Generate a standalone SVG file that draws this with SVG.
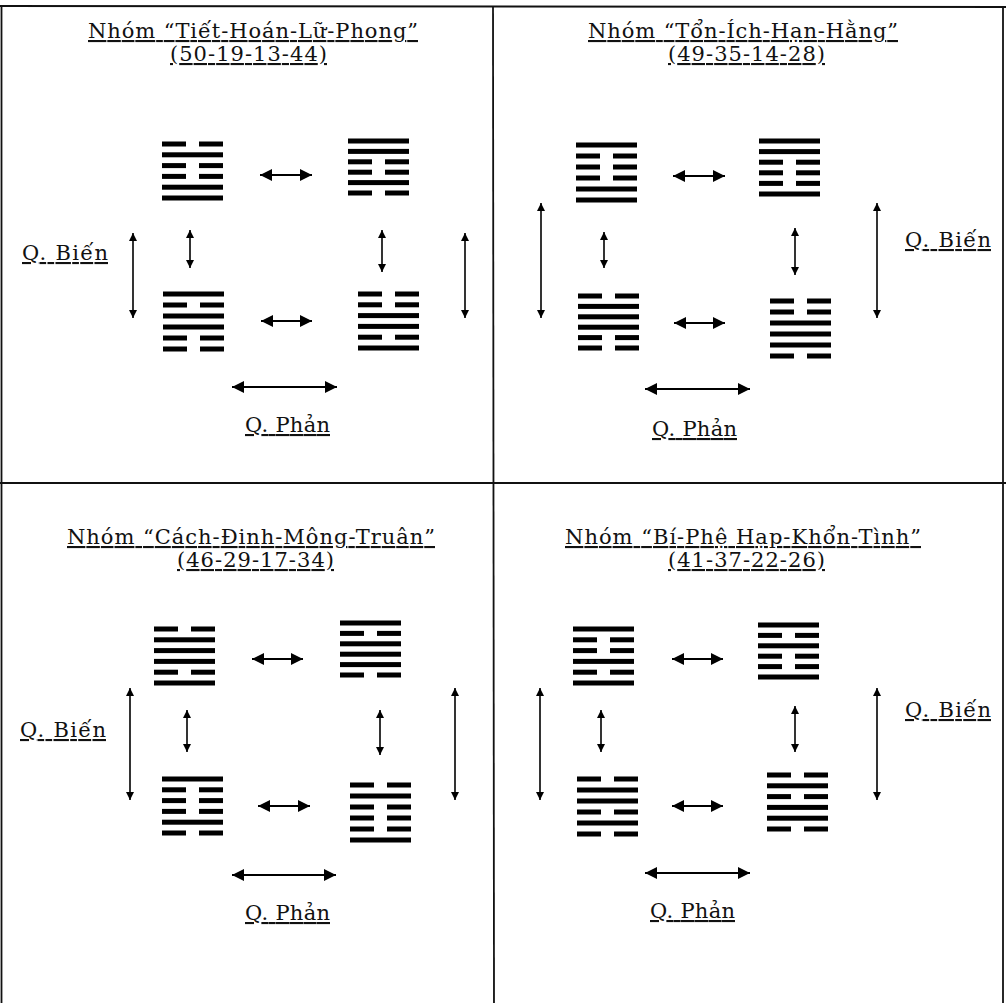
<svg xmlns="http://www.w3.org/2000/svg" xmlns:xlink="http://www.w3.org/1999/xlink" width="1006" height="1003" viewBox="0 0 1006 1003">
<style>
.t{font-family:"DejaVu Serif","Liberation Serif",serif;font-size:21px;fill:#111;text-decoration:underline;}
.b{stroke:#111;stroke-width:1.8;fill:none;}
.ah{stroke:#000;stroke-width:2.2;fill:none;marker-start:url(#mh);marker-end:url(#mh);}
.av{stroke:#000;stroke-width:1.6;fill:none;marker-start:url(#mv);marker-end:url(#mv);}
</style>
<defs>
<marker id="mh" viewBox="0 0 10 10" refX="10" refY="5" markerWidth="12" markerHeight="12" markerUnits="userSpaceOnUse" orient="auto-start-reverse"><path d="M0,0 L10,5 L0,10 z" fill="#000"/></marker>
<marker id="mv" viewBox="0 0 10 10" refX="10" refY="5" markerWidth="10" markerHeight="8" markerUnits="userSpaceOnUse" orient="auto-start-reverse"><path d="M0,0 L10,5 L0,10 z" fill="#000"/></marker>
<rect id="s" y="-0.5" width="61" height="5" fill="#000"/>
<g id="k" fill="#000"><rect y="-0.5" width="24" height="5"/><rect x="37" y="-0.5" width="24" height="5"/></g>
</defs>
<rect width="1006" height="1003" fill="#fff"/>
<g id="frame" class="b">
<line x1="0" y1="6" x2="1006" y2="7"/>
<line x1="1.5" y1="6" x2="1.5" y2="1003"/>
<line x1="1003" y1="6" x2="1003" y2="1003"/>
<line x1="493" y1="6" x2="494" y2="1003"/>
<line x1="0" y1="483" x2="1006" y2="483"/>
</g>
<g id="labels">
<text class="t" x="88" y="38" textLength="330">Nhóm “Tiết-Hoán-Lữ-Phong”</text>
<text class="t" x="170" y="61" textLength="157">(50-19-13-44)</text>
<text class="t" x="588" y="38" textLength="310">Nhóm “Tổn-Ích-Hạn-Hằng”</text>
<text class="t" x="668" y="61" textLength="157">(49-35-14-28)</text>
<text class="t" x="67" y="544" textLength="368">Nhóm “Cách-Đinh-Mông-Truân”</text>
<text class="t" x="177" y="567" textLength="157">(46-29-17-34)</text>
<text class="t" x="565" y="544" textLength="356">Nhóm “Bí-Phệ Hạp-Khổn-Tình”</text>
<text class="t" x="668" y="567" textLength="157">(41-37-22-26)</text>
<text class="t" x="22" y="260" textLength="86">Q. Biến</text>
<text class="t" x="905" y="247" textLength="86">Q. Biến</text>
<text class="t" x="20" y="737" textLength="86">Q. Biến</text>
<text class="t" x="905" y="717" textLength="86">Q. Biến</text>
<text class="t" x="245" y="432" textLength="85">Q. Phản</text>
<text class="t" x="652" y="436" textLength="85">Q. Phản</text>
<text class="t" x="245" y="920" textLength="85">Q. Phản</text>
<text class="t" x="650" y="918" textLength="85">Q. Phản</text>
</g>
<g id="tiet" transform="translate(162,144)"><use href="#k" y="-2"/><use href="#s" y="8.8"/><use href="#k" y="19.6"/><use href="#k" y="30.4"/><use href="#s" y="41.2"/><use href="#s" y="52"/></g>
<g id="hoan" transform="translate(348,141)"><use href="#s" y="-2"/><use href="#s" y="8.4"/><use href="#k" y="18.8"/><use href="#k" y="29.2"/><use href="#s" y="39.6"/><use href="#k" y="50"/></g>
<g id="lu" transform="translate(163,294)"><use href="#s" y="-2"/><use href="#k" y="9"/><use href="#s" y="20"/><use href="#s" y="31"/><use href="#k" y="42"/><use href="#k" y="53"/></g>
<g id="phong" transform="translate(358,294)"><use href="#k" y="-2"/><use href="#k" y="8.8"/><use href="#s" y="19.6"/><use href="#s" y="30.4"/><use href="#k" y="41.2"/><use href="#s" y="52"/></g>
<g id="ton" transform="translate(576,145)"><use href="#s" y="-2"/><use href="#k" y="9"/><use href="#k" y="20"/><use href="#k" y="31"/><use href="#s" y="42"/><use href="#s" y="53"/></g>
<g id="ich" transform="translate(759,141)"><use href="#s" y="-2"/><use href="#s" y="8.6"/><use href="#k" y="19.2"/><use href="#k" y="29.8"/><use href="#k" y="40.4"/><use href="#s" y="51"/></g>
<g id="ham" transform="translate(578,296)"><use href="#k" y="-2"/><use href="#s" y="8.4"/><use href="#s" y="18.8"/><use href="#s" y="29.2"/><use href="#k" y="39.6"/><use href="#k" y="50"/></g>
<g id="hang" transform="translate(770,301)"><use href="#k" y="-2"/><use href="#k" y="9"/><use href="#s" y="20"/><use href="#s" y="31"/><use href="#s" y="42"/><use href="#k" y="53"/></g>
<g id="cach" transform="translate(154,629)"><use href="#k" y="-2"/><use href="#s" y="8.8"/><use href="#s" y="19.6"/><use href="#s" y="30.4"/><use href="#k" y="41.2"/><use href="#s" y="52"/></g>
<g id="dinh" transform="translate(340,623)"><use href="#s" y="-2"/><use href="#k" y="8.4"/><use href="#s" y="18.8"/><use href="#s" y="29.2"/><use href="#s" y="39.6"/><use href="#k" y="50"/></g>
<g id="mong" transform="translate(162,779)"><use href="#s" y="-2"/><use href="#k" y="8.8"/><use href="#k" y="19.6"/><use href="#k" y="30.4"/><use href="#s" y="41.2"/><use href="#k" y="52"/></g>
<g id="truan" transform="translate(350,785)"><use href="#k" y="-2"/><use href="#s" y="9"/><use href="#k" y="20"/><use href="#k" y="31"/><use href="#k" y="42"/><use href="#s" y="53"/></g>
<g id="bi" transform="translate(573,629)"><use href="#s" y="-2"/><use href="#k" y="8.8"/><use href="#k" y="19.6"/><use href="#s" y="30.4"/><use href="#k" y="41.2"/><use href="#s" y="52"/></g>
<g id="phehap" transform="translate(758,625)"><use href="#s" y="-2"/><use href="#k" y="8.4"/><use href="#s" y="18.8"/><use href="#k" y="29.2"/><use href="#k" y="39.6"/><use href="#s" y="50"/></g>
<g id="khon" transform="translate(577,779)"><use href="#k" y="-2"/><use href="#s" y="9"/><use href="#s" y="20"/><use href="#k" y="31"/><use href="#s" y="42"/><use href="#k" y="53"/></g>
<g id="tinh" transform="translate(767,775)"><use href="#k" y="-2"/><use href="#s" y="8.8"/><use href="#k" y="19.6"/><use href="#s" y="30.4"/><use href="#s" y="41.2"/><use href="#k" y="52"/></g>
<g id="connectors">
<line class="ah" x1="260" y1="175" x2="312" y2="175"/>
<line class="ah" x1="261" y1="321" x2="312" y2="321"/>
<line class="ah" x1="232" y1="387" x2="337" y2="387"/>
<line class="av" x1="190" y1="230" x2="190" y2="268"/>
<line class="av" x1="382" y1="230" x2="382" y2="272"/>
<line class="av" x1="133" y1="233" x2="133" y2="318"/>
<line class="av" x1="465" y1="233" x2="465" y2="318"/>
<line class="ah" x1="673" y1="176" x2="725" y2="176"/>
<line class="ah" x1="674" y1="323" x2="725" y2="323"/>
<line class="ah" x1="645" y1="389" x2="750" y2="389"/>
<line class="av" x1="604" y1="232" x2="604" y2="268"/>
<line class="av" x1="795" y1="228" x2="795" y2="275"/>
<line class="av" x1="541" y1="203" x2="541" y2="318"/>
<line class="av" x1="877" y1="203" x2="877" y2="318"/>
<line class="ah" x1="252" y1="659" x2="303" y2="659"/>
<line class="ah" x1="258" y1="806" x2="310" y2="806"/>
<line class="ah" x1="232" y1="875" x2="336" y2="875"/>
<line class="av" x1="187" y1="710" x2="187" y2="752"/>
<line class="av" x1="380" y1="710" x2="380" y2="755"/>
<line class="av" x1="130" y1="688" x2="130" y2="800"/>
<line class="av" x1="455" y1="688" x2="455" y2="800"/>
<line class="ah" x1="672" y1="659" x2="723" y2="659"/>
<line class="ah" x1="672" y1="806" x2="723" y2="806"/>
<line class="ah" x1="645" y1="873" x2="750" y2="873"/>
<line class="av" x1="601" y1="710" x2="601" y2="752"/>
<line class="av" x1="795" y1="706" x2="795" y2="752"/>
<line class="av" x1="540" y1="688" x2="540" y2="800"/>
<line class="av" x1="877" y1="688" x2="877" y2="800"/>
</g>
</svg>
